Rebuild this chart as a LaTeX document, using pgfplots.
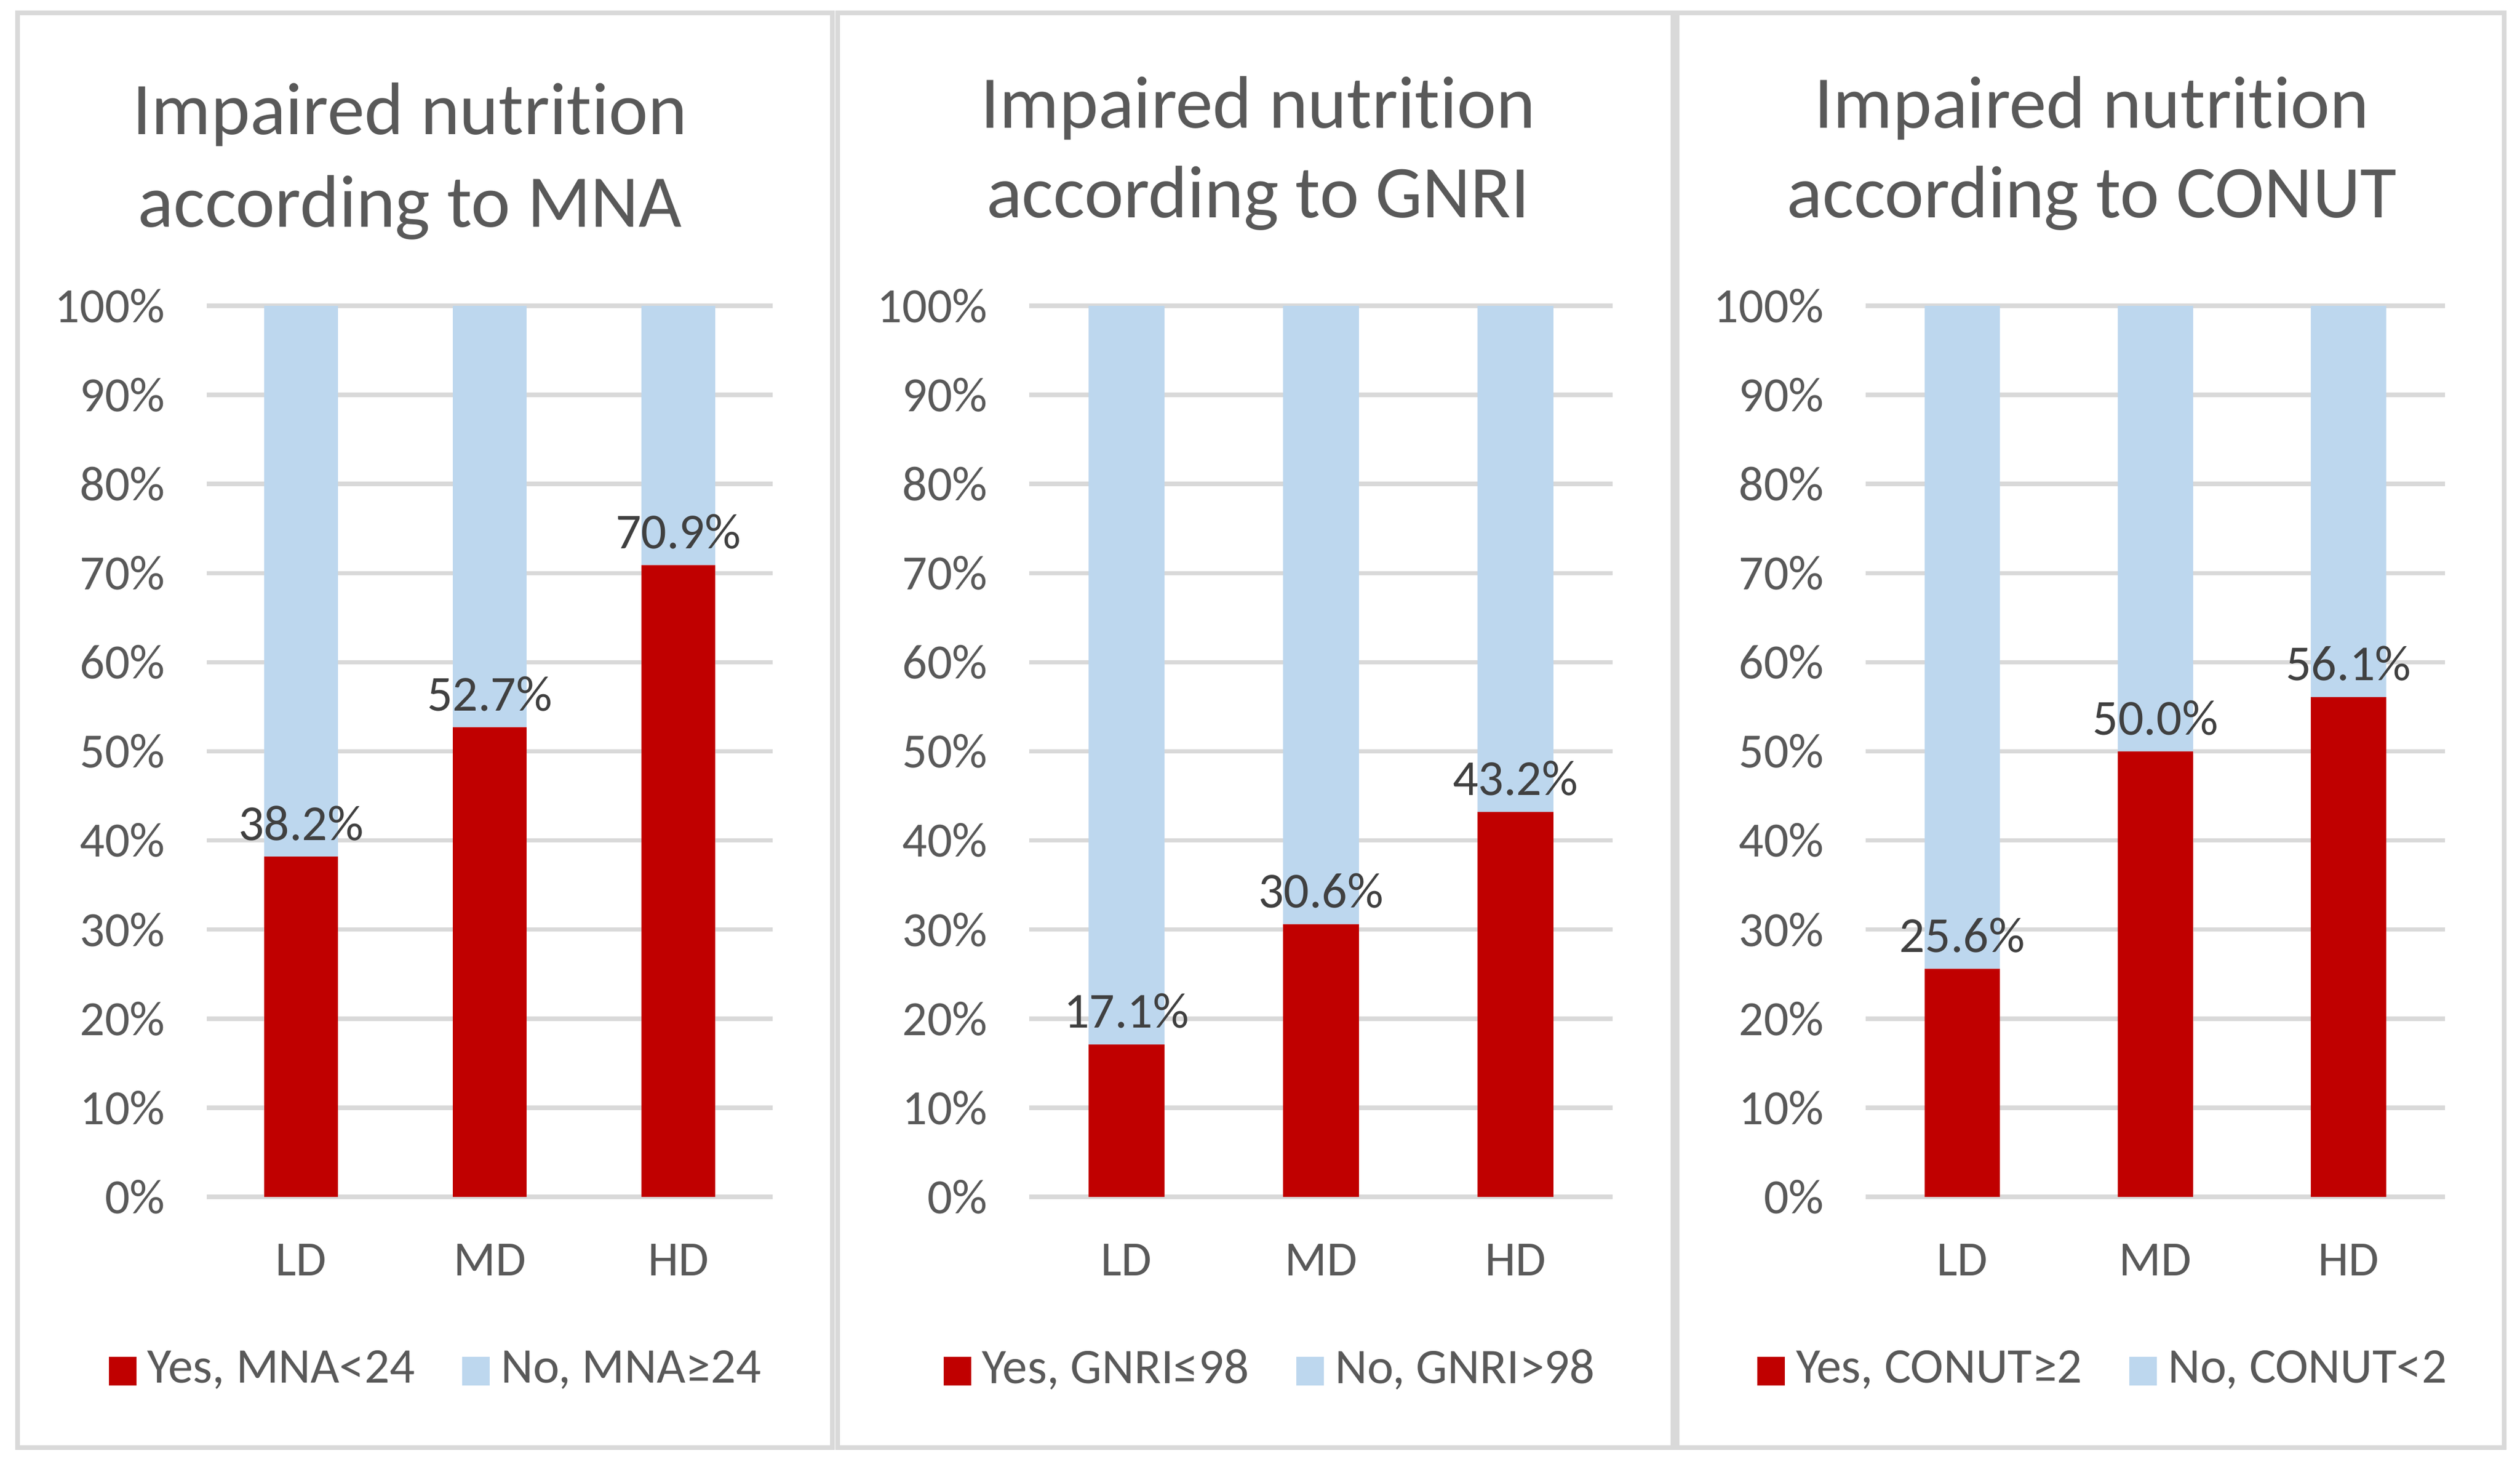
\documentclass[border=0pt]{standalone}
\usepackage{fontspec}
\setmainfont{Carlito}[Ligatures=NoCommon]
\usepackage{pgfplots}
\pgfplotsset{compat=1.18}
\definecolor{myred}{HTML}{C00000}
\definecolor{myblue}{HTML}{BDD7EE}
\definecolor{gridgray}{HTML}{D9D9D9}
\definecolor{txtgray}{HTML}{595959}
\definecolor{lblgray}{HTML}{404040}

\pgfplotsset{
  base/.style={
    scale only axis, height=152.1pt, anchor=south west,
    xmin=-0.5, xmax=2.5, ymin=0, ymax=100,
  },
  panel/.style={
    base,
    ybar stacked, bar width=0.39,
    xtick={0,1,2}, xticklabels={LD,MD,HD},
    ytick={0,10,...,100},
    yticklabel={\pgfmathprintnumber{\tick}\%},
    /pgf/number format/assume math mode=true,
    axis line style={draw=none},
    major tick length=0pt,
    tick style={draw=none},
    ymajorgrids, grid style={draw=gridgray, line width=0.75pt},
    ticklabel style={font=\fontsize{8.4}{10}\selectfont, text=txtgray},
    yticklabel style={anchor=east, xshift=-3.6pt},
    xticklabel style={anchor=base, yshift=-13.4pt},
    legend columns=2,
    legend style={draw=none, fill=none, inner sep=0pt, anchor=center,
      font=\fontsize{8.5}{10}\selectfont, text=txtgray,
      nodes={inner xsep=1.9pt, inner ysep=1pt},
      /tikz/every even column/.append style={column sep=6.2pt}},
    legend image code/.code={\fill[##1] (0pt,-2.45pt) rectangle (4.7pt,2.45pt);},
  },
  labels/.style={
    base, hide axis,
    /pgf/number format/assume math mode=true,
    nodes near coords={\pgfmathprintnumber[fixed,fixed zerofill,precision=1]{\pgfplotspointmeta}\%},
    every node near coord/.append style={font=\fontsize{8.6}{10}\selectfont, text=lblgray, anchor=base, yshift=2.8pt, inner sep=0pt},
  },
}

\begin{document}
\begin{tikzpicture}
\useasboundingbox (0pt,0pt) rectangle (430.2pt,249.8pt);
\fill[white] (0pt,0pt) rectangle (430.2pt,249.8pt);
\draw[gridgray, line width=0.75pt] (3.0pt,2.7pt) rectangle (142.1pt,247.6pt);
\draw[gridgray, line width=0.75pt] (143.0pt,2.7pt) rectangle (285.6pt,247.6pt);
\draw[gridgray, line width=0.75pt] (286.3pt,2.7pt) rectangle (427.5pt,247.6pt);

\tikzset{ttl/.style={anchor=base, font=\fontsize{12.7}{15.4}\selectfont, text=txtgray}}
\node[ttl] at (70.0pt,226.9pt) {Impaired nutrition};
\node[ttl] at (70.0pt,211.1pt) {according to MNA};
\node[ttl] at (214.8pt,228.0pt) {Impaired nutrition};
\node[ttl] at (214.8pt,212.7pt) {according to GNRI};
\node[ttl] at (357.1pt,228.0pt) {Impaired nutrition};
\node[ttl] at (357.1pt,212.7pt) {according to CONUT};

% Panel 1: MNA
\begin{axis}[panel, at={(35.3pt,45.5pt)}, width=96.6pt,
  legend style={at={(axis description cs:0.413,-0.1953)}}]
\addplot[fill=myred, draw=none] coordinates {(0,38.2) (1,52.7) (2,70.9)};
\addplot[fill=myblue, draw=none] coordinates {(0,61.8) (1,47.3) (2,29.1)};
\addlegendentry{Yes, MNA<24}
\addlegendentry{No, MNA≥24}
\end{axis}
\begin{axis}[labels, at={(35.3pt,45.5pt)}, width=96.6pt]
\addplot[draw=none, mark=none] coordinates {(0,38.2) (1,52.7) (2,70.9)};
\end{axis}

% Panel 2: GNRI
\begin{axis}[panel, at={(175.7pt,45.5pt)}, width=99.6pt,
  legend style={at={(axis description cs:0.4207,-0.1953)}}]
\addplot[fill=myred, draw=none] coordinates {(0,17.1) (1,30.6) (2,43.2)};
\addplot[fill=myblue, draw=none] coordinates {(0,82.9) (1,69.4) (2,56.8)};
\addlegendentry{Yes, GNRI≤98}
\addlegendentry{No, GNRI>98}
\end{axis}
\begin{axis}[labels, at={(175.7pt,45.5pt)}, width=99.6pt]
\addplot[draw=none, mark=none] coordinates {(0,17.1) (1,30.6) (2,43.2)};
\end{axis}

% Panel 3: CONUT
\begin{axis}[panel, at={(318.5pt,45.5pt)}, width=98.9pt,
  legend style={at={(axis description cs:0.4176,-0.1953)}}]
\addplot[fill=myred, draw=none] coordinates {(0,25.6) (1,50.0) (2,56.1)};
\addplot[fill=myblue, draw=none] coordinates {(0,74.4) (1,50.0) (2,43.9)};
\addlegendentry{Yes, CONUT≥2}
\addlegendentry{No, CONUT<2}
\end{axis}
\begin{axis}[labels, at={(318.5pt,45.5pt)}, width=98.9pt]
\addplot[draw=none, mark=none] coordinates {(0,25.6) (1,50.0) (2,56.1)};
\end{axis}
\end{tikzpicture}
\end{document}
